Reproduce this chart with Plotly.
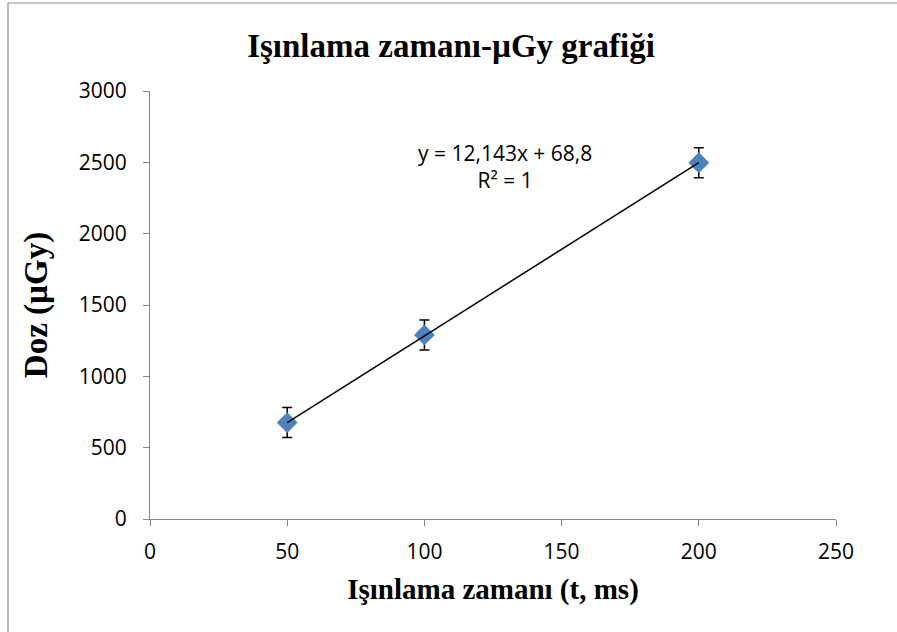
import plotly.graph_objects as go

# Data
time_ms = [50, 100, 200]
dose_uGy = [676, 1290, 2497]
dose_err = [105, 105, 105]
slope = 12.143
intercept = 68.8
x_ticks = [0, 50, 100, 150, 200, 250]
y_ticks = [0, 500, 1000, 1500, 2000, 2500, 3000]

trend_x = [time_ms[0], time_ms[-1]]
trend_y = [slope * v + intercept for v in trend_x]

W, H = 897, 632
L, R, T, B = 150, 61, 91, 113
pw, ph = W - L - R, H - T - B

def px(x):
    return (x - L) / pw

def py(y):
    return (H - B - y) / ph

tick_font = dict(family="Open Sans, Liberation Sans, sans-serif", size=21, color="#000000")
serif = "Liberation Serif, Times New Roman, serif"

fig = go.Figure()
fig.add_trace(go.Scatter(
    x=time_ms, y=dose_uGy, mode="markers",
    marker=dict(symbol="diamond", size=16, color="#4F81BD"),
    error_y=dict(type="data", array=dose_err, visible=True, color="#000000", thickness=1.5, width=5),
    showlegend=False, hoverinfo="x+y",
))
fig.add_trace(go.Scatter(
    x=trend_x, y=trend_y, mode="lines",
    line=dict(color="#000000", width=1.5),
    showlegend=False, hoverinfo="skip",
))

axis_common = dict(
    showgrid=False, zeroline=False, showline=True, linecolor="#868686", linewidth=1,
    ticks="outside", ticklen=6, tickcolor="#868686", tickwidth=1,
    tickfont=tick_font,
)
fig.update_xaxes(range=[0, 250], tickvals=x_ticks, ticktext=[str(v) for v in x_ticks], **axis_common,
                 ticklabelstandoff=8,
                 title=dict(text="<b>Işınlama zamanı (t, ms)</b>", font=dict(family=serif, size=29, color="#000000"), standoff=14))
fig.update_yaxes(range=[0, 3000], tickvals=y_ticks, ticktext=[str(v) for v in y_ticks], **axis_common,
                 ticklabelstandoff=12,
                 title=dict(text="<b>Doz (µGy)</b>", font=dict(family=serif, size=33, color="#000000"), standoff=21))

fig.add_annotation(
    x=px(505), y=py(166), xref="paper", yref="paper",
    text=f"y = {str(slope).replace('.', ',')}x + {str(intercept).replace('.', ',')}<br>R² = 1",
    showarrow=False, font=tick_font, align="center", xanchor="center", yanchor="middle",
)

# outer chart frame (only left and top edges fall inside the picture)
frame_line = dict(color="#8c8c8c", width=1.2)
fig.add_shape(type="line", xref="paper", yref="paper",
              x0=px(8), x1=px(8), y0=py(H + 5), y1=py(3), line=frame_line, layer="below")
fig.add_shape(type="line", xref="paper", yref="paper",
              x0=px(8), x1=px(W + 5), y0=py(3), y1=py(3), line=frame_line, layer="below")

fig.update_layout(
    width=W, height=H,
    margin=dict(l=L, r=R, t=T, b=B),
    paper_bgcolor="#ffffff", plot_bgcolor="#ffffff",
    title=dict(text="<b>Işınlama zamanı-µGy grafiği</b>", x=(451) / W, xanchor="center",
               y=1 - 45 / H, yanchor="middle", font=dict(family=serif, size=33, color="#000000")),
)

fig.write_html("out.html")
